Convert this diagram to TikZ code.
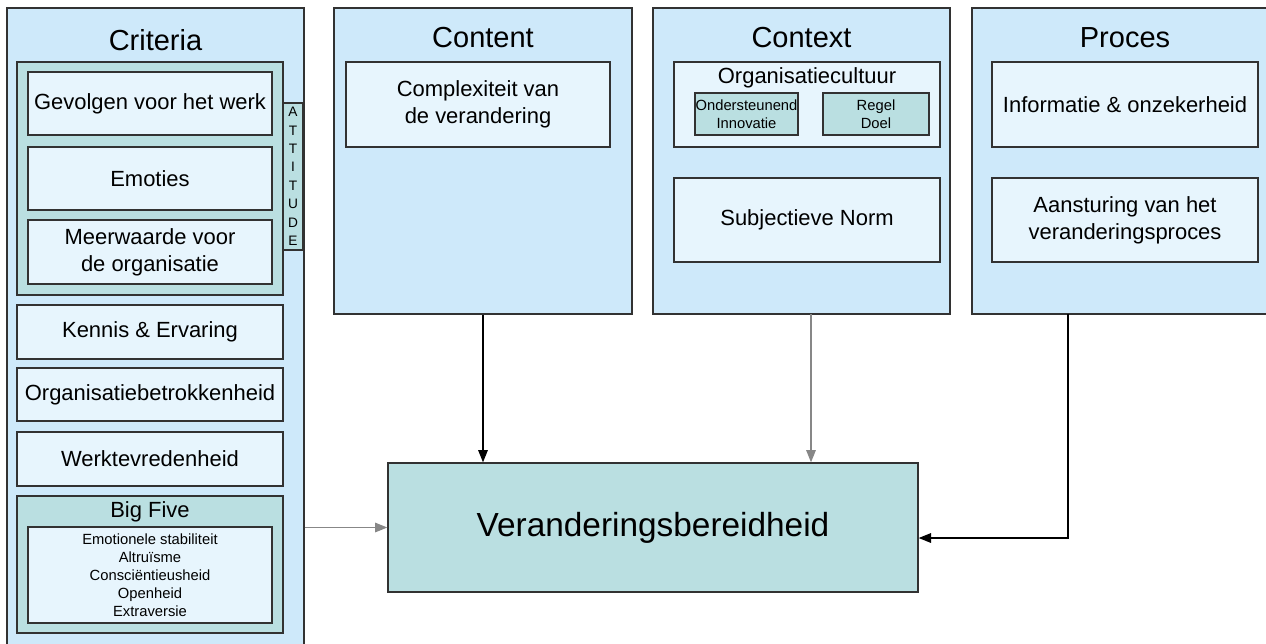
\documentclass[tikz,border=0pt]{standalone}
\usepackage{fontspec}
\setmainfont{Liberation Sans}
\usetikzlibrary{fit,arrows.meta}

\definecolor{panelblue}{RGB}{206,233,250}
\definecolor{itemblue}{RGB}{231,245,253}
\definecolor{groupteal}{RGB}{186,223,225}
\definecolor{edgegray}{RGB}{50,50,50}
\definecolor{linkgray}{RGB}{135,135,135}

\tikzset{
  panel/.style={draw=edgegray, fill=panelblue, line width=0.8pt, inner sep=0pt},
  groupbox/.style={draw=edgegray, fill=groupteal, line width=0.8pt, inner sep=0pt},
  itembox/.style={draw=edgegray, fill=itemblue, line width=0.8pt, inner sep=0pt},
  itemtext/.style={align=center, font=\fontsize{12.5}{15.5}\selectfont},
  paneltitle/.style={font=\fontsize{16.5}{20}\selectfont},
  smalltext/.style={align=center, font=\fontsize{8.4}{10.2}\selectfont},
  link/.style={-{Triangle[length=7pt,width=5.5pt]}, line width=0.6pt},
}

\begin{document}
\begin{tikzpicture}[x=0.02cm, y=-0.02cm]
\useasboundingbox (0,0) rectangle (1266,643);

% Criteria
\node[panel, fit={(7,8) (304,650)}] (criteria) {};
\node[paneltitle] (criteriatitle) at (155.5,40) {Criteria};
\node[groupbox, fit={(283,103) (303,250)},
  label={[align=center, font=\fontsize{7.8}{10.5}\selectfont]center:A\\T\\T\\I\\T\\U\\D\\E}] (attitude) {};
\node[groupbox, fit={(17,62) (283,295)}] (attgroup) {};
\node[itembox, fit={(28,72) (272,135)}, label={[itemtext]center:Gevolgen voor het werk}] (gevolgen) {};
\node[itembox, fit={(28,147) (272,210)}, label={[itemtext]center:Emoties}] (emoties) {};
\node[itembox, fit={(28,220) (272,284)}, label={[itemtext]center:Meerwaarde voor\\de organisatie}] (meerwaarde) {};
\node[itembox, fit={(17,305) (283,359)}, label={[itemtext]center:Kennis \& Ervaring}] (kennis) {};
\node[itembox, fit={(17,368) (283,421)}, label={[itemtext]center:Organisatiebetrokkenheid}] (betrokken) {};
\node[itembox, fit={(17,432) (283,486)}, label={[itemtext]center:Werktevredenheid}] (tevreden) {};
\node[groupbox, fit={(17,496) (283,633)}] (bigfive) {};
\node[itemtext] (bigfivetitle) at (150,512) {Big Five};
\node[itembox, fit={(28,527) (272,623)},
  label={[smalltext]center:Emotionele stabiliteit\\Altruïsme\\Consciëntieusheid\\Openheid\\Extraversie}] (traits) {};

% Content
\node[panel, fit={(334,8) (632,314)}] (content) {};
\node[paneltitle] (contenttitle) at (483,38) {Content};
\node[itembox, fit={(346,62) (610,147)}, label={[itemtext]center:Complexiteit van\\de verandering}] (complex) {};

% Context
\node[panel, fit={(653,8) (950,314)}] (context) {};
\node[paneltitle] (contexttitle) at (801.5,38) {Context};
\node[itembox, fit={(674,62) (940,147)}] (cultuur) {};
\node[itemtext] (cultuurtitle) at (807,78) {Organisatiecultuur};
\node[groupbox, fit={(695,93) (798,135)}, label={[smalltext]center:Ondersteunend\\Innovatie}] (ondersteunend) {};
\node[groupbox, fit={(823,93) (929,135)}, label={[smalltext]center:Regel\\Doel}] (regel) {};
\node[itembox, fit={(674,178) (940,262)}, label={[itemtext]center:Subjectieve Norm}] (norm) {};

% Proces
\node[panel, fit={(972,8) (1280,314)}] (proces) {};
\node[paneltitle] (procestitle) at (1125,38) {Proces};
\node[itembox, fit={(992,62) (1258,147)}, label={[itemtext]center:Informatie \& onzekerheid}] (informatie) {};
\node[itembox, fit={(992,178) (1258,262)}, label={[itemtext]center:Aansturing van het\\veranderingsproces}] (aansturing) {};

% Veranderingsbereidheid
\node[groupbox, fit={(388,463) (918,592)},
  label={[font=\fontsize{19}{23}\selectfont]center:Veranderingsbereidheid}] (verand) {};

% links
\coordinate (contextout) at (811,314);
\coordinate (procesout) at (1068,314);
\draw[link, draw=linkgray] (criteria.east |- verand.west) -- (verand.west);
\draw[link] (content.south) -- (content.south |- verand.north);
\draw[link, draw=linkgray] (contextout) -- (contextout |- verand.north);
\draw[link] (procesout) |- ([yshift=-0.21cm]verand.east);
\end{tikzpicture}
\end{document}
